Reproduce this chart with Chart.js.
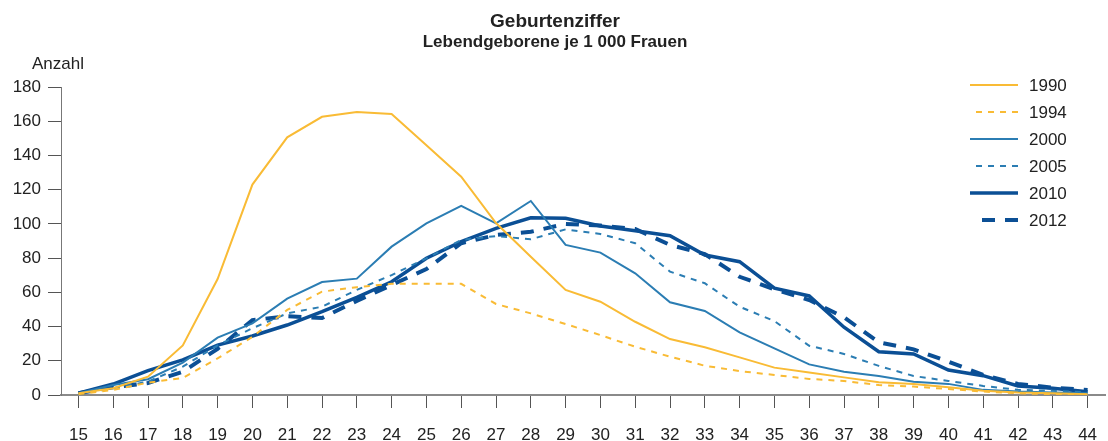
<!DOCTYPE html>
<html>
<head>
<meta charset="utf-8">
<script src="https://cdn.jsdelivr.net/npm/chart.js@4"></script>
<style>
  html, body { margin: 0; padding: 0; background: #fff; }
  #wrap { width: 1108px; height: 441px; position: relative; }
</style>
</head>
<body>
<div id="wrap"><canvas id="chart"></canvas></div>
<script>
const ages = ['15','16','17','18','19','20','21','22','23','24','25','26','27','28','29',
              '30','31','32','33','34','35','36','37','38','39','40','41','42','43','44'];
const yTicks = [0, 20, 40, 60, 80, 100, 120, 140, 160, 180];

const y1990 = [1, 4, 10.7, 29, 67.8, 123, 150.6, 162.6, 165.4, 164.2, 146, 127.6, 100.5, 80.8, 61.4,
               54.5, 42.8, 32.7, 27.9, 22, 16, 13.2, 10.3, 7.4, 6.4, 4.5, 2.5, 1.5, 1, 0.5];
const y1994 = [0.5, 3, 7.2, 10, 21.4, 34, 49.7, 60.4, 63, 65, 65, 65, 53.2, 47.7, 41.5,
               35, 28.2, 22.4, 17.1, 14, 11.7, 9.4, 8.2, 5.8, 4.9, 3.5, 2, 1, 0.5, 0.3];
const y2000 = [1, 5.8, 9.2, 18.9, 33.5, 41.9, 56.3, 66, 68, 86.7, 100.3, 110.6, 100.3, 113.4, 87.7,
               83.2, 71.1, 54.2, 49.1, 36.6, 27.3, 17.9, 13.6, 11.1, 7.8, 6.5, 3, 2, 1.5, 1];
const y2005 = [0.5, 4, 7.8, 16.6, 29, 39, 47.7, 51.6, 61.4, 70.1, 79.9, 90.6, 92.9, 91, 96.8,
               94.1, 88.7, 72.1, 65.3, 51.6, 43.2, 28.8, 24, 17, 11.1, 8.2, 5.3, 3, 2.5, 1.5];
const y2010 = [1, 6.4, 14.2, 20.5, 29.2, 34.5, 40.9, 48.7, 57.1, 66.2, 79.9, 89.6, 97.4, 103.6, 103.3,
               98.8, 96, 93.1, 81.8, 77.9, 62.4, 57.9, 39.6, 25.3, 24, 14.6, 11.3, 5.3, 3.9, 1.9];
const y2012 = [1, 4.5, 7, 13.6, 27, 43.8, 46, 45, 55, 64.3, 73.6, 88.7, 93.5, 95.4, 100,
               99, 97, 87.7, 82.4, 69.1, 61.8, 55.5, 45.4, 30.8, 26.7, 19.5, 11.7, 6.4, 4.3, 2.9];

const YELLOW = '#f9bb35';
const MID = '#2b7db3';
const DARK = '#0b4f95';
const FONT = '"Liberation Sans", Arial, sans-serif';

function series(label, data, color, width, dash) {
  return {
    label, data,
    borderColor: color,
    backgroundColor: color,
    borderWidth: width,
    borderDash: dash,
    pointRadius: 0,
    tension: 0,
    fill: false,
  };
}

// titles, axis caption and the legend on the right
const decor = {
  id: 'decor',
  afterDraw(chart) {
    const ctx = chart.ctx;
    ctx.save();
    ctx.fillStyle = '#222';
    ctx.textAlign = 'center';
    ctx.textBaseline = 'alphabetic';
    ctx.font = 'bold 19px ' + FONT;
    ctx.fillText('Geburtenziffer', 555, 27);
    ctx.font = 'bold 17px ' + FONT;
    ctx.fillText('Lebendgeborene je 1 000 Frauen', 555, 47);
    ctx.textAlign = 'left';
    ctx.font = '17px ' + FONT;
    ctx.fillText('Anzahl', 32, 69);

    const x1 = 1018, y0 = 85, step = 27;
    chart.data.datasets.forEach((ds, i) => {
      const y = y0 + i * step;
      const dash = ds.borderDash || [];
      // whole dashes only, ending at x1
      let x0 = 970;
      if (dash.length) {
        const n = dash[0] > 10 ? 2 : 4;
        x0 = x1 - (n * dash[0] + (n - 1) * dash[1]);
      }
      ctx.strokeStyle = ds.borderColor;
      ctx.lineWidth = ds.borderWidth;
      ctx.setLineDash(dash);
      ctx.beginPath();
      ctx.moveTo(x0, y);
      ctx.lineTo(x1, y);
      ctx.stroke();
      ctx.setLineDash([]);
      ctx.fillStyle = '#222';
      ctx.textBaseline = 'middle';
      ctx.fillText(ds.label, 1029, y + 1);
    });
    ctx.restore();
  }
};

new Chart(document.getElementById('chart'), {
  type: 'line',
  data: {
    labels: ages,
    datasets: [
      series('1990', y1990, YELLOW, 2, []),
      series('1994', y1994, YELLOW, 2, [6, 6]),
      series('2000', y2000, MID, 2, []),
      series('2005', y2005, MID, 2, [6, 6]),
      series('2010', y2010, DARK, 3.5, []),
      series('2012', y2012, DARK, 4, [13, 10]),
    ]
  },
  options: {
    responsive: true,
    maintainAspectRatio: false,
    animation: false,
    layout: { padding: { top: 87, right: 3, left: 0, bottom: 0 } },
    plugins: {
      legend: { display: false },
      title: { display: false },
      tooltip: { enabled: false }
    },
    scales: {
      x: {
        offset: true,
        afterFit: (s) => { s.height = 46; s.paddingLeft = 0; s.paddingRight = 0; },
        grid: { drawOnChartArea: false, drawTicks: true, tickLength: 13, color: '#555', lineWidth: 1 },
        border: { display: true, color: '#8a8a8a', width: 2 },
        ticks: { color: '#222', font: { family: FONT, size: 17 }, padding: 17, maxRotation: 0, autoSkip: false }
      },
      y: {
        min: 0,
        max: 180,
        afterFit: (s) => { s.width = 61; s.paddingTop = 0; s.paddingBottom = 0; },
        afterBuildTicks: (s) => { s.ticks = yTicks.map(v => ({ value: v })); },
        grid: { drawOnChartArea: false, drawTicks: true, tickLength: 13, color: '#555', lineWidth: 1 },
        border: { display: true, color: '#777', width: 1 },
        ticks: { color: '#222', font: { family: FONT, size: 17 }, padding: 7 }
      }
    }
  },
  plugins: [decor]
});
</script>
</body>
</html>
